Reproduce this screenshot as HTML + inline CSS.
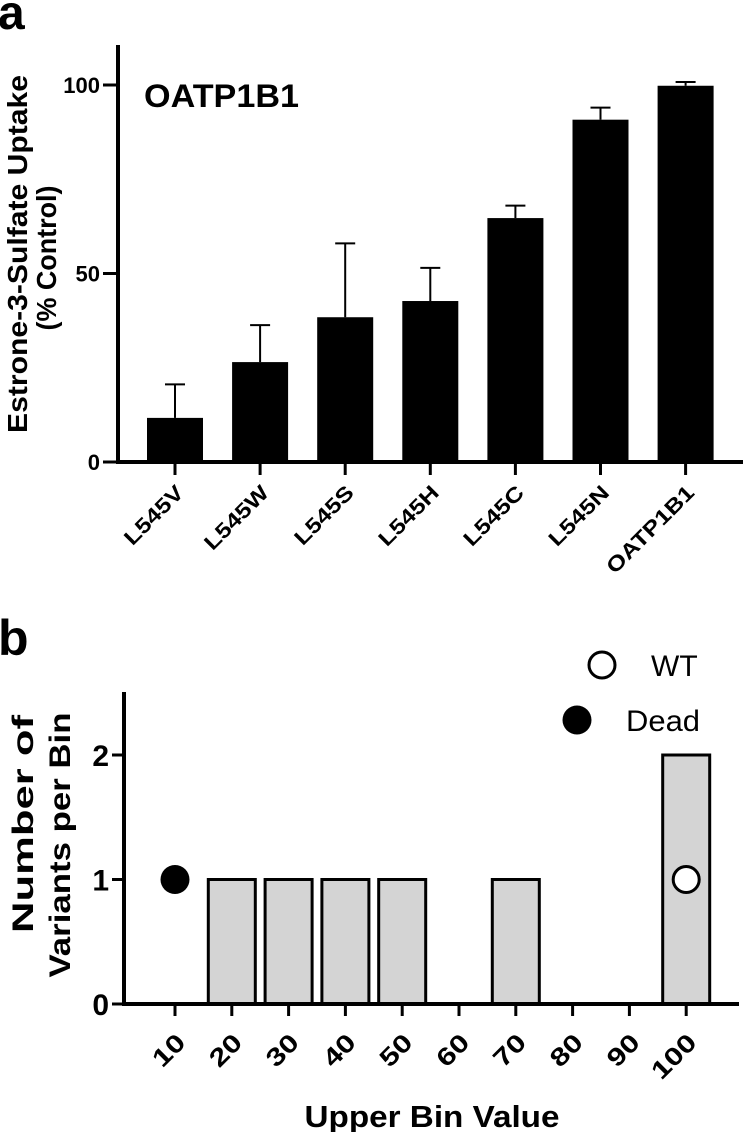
<!DOCTYPE html>
<html><head><meta charset="utf-8"><style>
html,body{margin:0;padding:0;background:#fff;}
svg{display:block;font-family:"Liberation Sans",Arial,sans-serif;}
</style></head><body>
<svg id="s" width="745" height="1132" viewBox="0 0 745 1132">
<text x="-2" y="29" font-size="48" font-weight="bold">a</text>
<text x="144" y="107" font-size="32" font-weight="bold" textLength="155" lengthAdjust="spacingAndGlyphs">OATP1B1</text>
<text transform="translate(27,254) rotate(-90)" text-anchor="middle" font-size="28" font-weight="bold" textLength="358" lengthAdjust="spacingAndGlyphs">Estrone-3-Sulfate Uptake</text>
<text transform="translate(56,258) rotate(-90)" text-anchor="middle" font-size="28" font-weight="bold" textLength="145" lengthAdjust="spacingAndGlyphs">(% Control)</text>
<text x="-2" y="655" font-size="50" font-weight="bold">b</text>
<text transform="translate(33,824) rotate(-90)" text-anchor="middle" font-size="30" font-weight="bold" textLength="218" lengthAdjust="spacingAndGlyphs">Number of</text>
<text transform="translate(70,845) rotate(-90)" text-anchor="middle" font-size="30" font-weight="bold" textLength="265" lengthAdjust="spacingAndGlyphs">Variants per Bin</text>
<text x="432" y="1127" text-anchor="middle" font-size="31" font-weight="bold" textLength="255" lengthAdjust="spacingAndGlyphs">Upper Bin Value</text>
<circle cx="602" cy="665" r="13" fill="#fff" stroke="#000" stroke-width="3"/>
<text x="651" y="676" font-size="30">WT</text>
<circle cx="577" cy="720" r="14.5" fill="#000"/>
<text x="626" y="731" font-size="30" textLength="74" lengthAdjust="spacingAndGlyphs">Dead</text>
</svg>
<script>
const catsA = ["L545V","L545W","L545S","L545H","L545C","L545N","OATP1B1"];
const valsA = [11.7,26.5,38.4,42.7,64.7,90.8,99.8];
const errA = [20.6,36.3,58,51.5,68,94,100.8];
const ticksA = [0,50,100];
const binsB = ["10","20","30","40","50","60","70","80","90","100"];
const countsB = [0,1,1,1,1,0,1,0,0,2];
const ticksB = [0,1,2];
const deadB = [{bin:"10",y:1}];
const wtB = [{bin:"100",y:1}];

const NS="http://www.w3.org/2000/svg";
const svg=document.getElementById('s');
function mk(t,a){const e=document.createElementNS(NS,t);for(const k in a)e.setAttribute(k,a[k]);svg.appendChild(e);return e;}

// Panel A
const yA=v=>462-v*3.77;
const xA=i=>175+i*85.1;
let e=mk('line',{x1:118,y1:45,x2:118,y2:464,stroke:'#000','stroke-width':4});


ticksA.forEach(t=>{
  let l=mk('line',{x1:103,y1:yA(t),x2:118,y2:yA(t),stroke:'#000','stroke-width':3});
  
  
  let tx=mk('text',{x:100,y:yA(t)+8,'text-anchor':'end','font-size':22,'font-weight':'bold'});
  tx.textContent=t;
  
  
});
catsA.forEach((c,i)=>{
  const x=xA(i);
  let el=mk('line',{x1:x,y1:yA(valsA[i]),x2:x,y2:yA(errA[i]),stroke:'#000','stroke-width':2});
  
  
  let cap=mk('line',{x1:x-10,y1:yA(errA[i]),x2:x+10,y2:yA(errA[i]),stroke:'#000','stroke-width':2});
  
  
  let b=mk('rect',{x:x-28,y:yA(valsA[i]),width:56,height:yA(0)-yA(valsA[i]),fill:'#000'});
  
  
  let tk=mk('line',{x1:x,y1:462,x2:x,y2:475,stroke:'#000','stroke-width':3});
  
  
  let tx=mk('text',{transform:`translate(${x+10},${494}) rotate(-45) scale(1.2,1)`,'text-anchor':'end','font-size':21,'font-weight':'bold'});
  tx.textContent=c;
  
  
});
e=mk('line',{x1:116,y1:462,x2:743,y2:462,stroke:'#000','stroke-width':4});



// Panel B
const yB=v=>1004-v*124.5;
const xB=i=>175+i*56.8;
e=mk('line',{x1:124,y1:692,x2:124,y2:1006,stroke:'#000','stroke-width':4});


ticksB.forEach(t=>{
  let l=mk('line',{x1:112,y1:yB(t),x2:124,y2:yB(t),stroke:'#000','stroke-width':3});
  
  
  let tx=mk('text',{x:109,y:yB(t)+11,'text-anchor':'end','font-size':30,'font-weight':'bold'});
  tx.textContent=t;
  
  
});
binsB.forEach((c,i)=>{
  const x=xB(i);
  if(countsB[i]>0){
    let b=mk('rect',{x:x-23.5,y:yB(countsB[i]),width:47,height:yB(0)-yB(countsB[i]),fill:'#d4d4d4',stroke:'#000','stroke-width':3});
    
    
  }
  let tk=mk('line',{x1:x,y1:1004,x2:x,y2:1016,stroke:'#000','stroke-width':3});
  
  
  let tx=mk('text',{transform:`translate(${x+12},${1044}) rotate(-45) scale(1.25,1)`,'text-anchor':'end','font-size':25,'font-weight':'bold'});
  tx.textContent=c;
  
  
});
e=mk('line',{x1:122,y1:1004,x2:739,y2:1004,stroke:'#000','stroke-width':4});


deadB.forEach(d=>{
  let c=mk('circle',{cx:xB(binsB.indexOf(d.bin)),cy:yB(d.y),r:14.5,fill:'#000'});
  
  
});
wtB.forEach(d=>{
  let c=mk('circle',{cx:xB(binsB.indexOf(d.bin)),cy:yB(d.y),r:13,fill:'#fff',stroke:'#000','stroke-width':3});
  
  
});
</script>
</body></html>
